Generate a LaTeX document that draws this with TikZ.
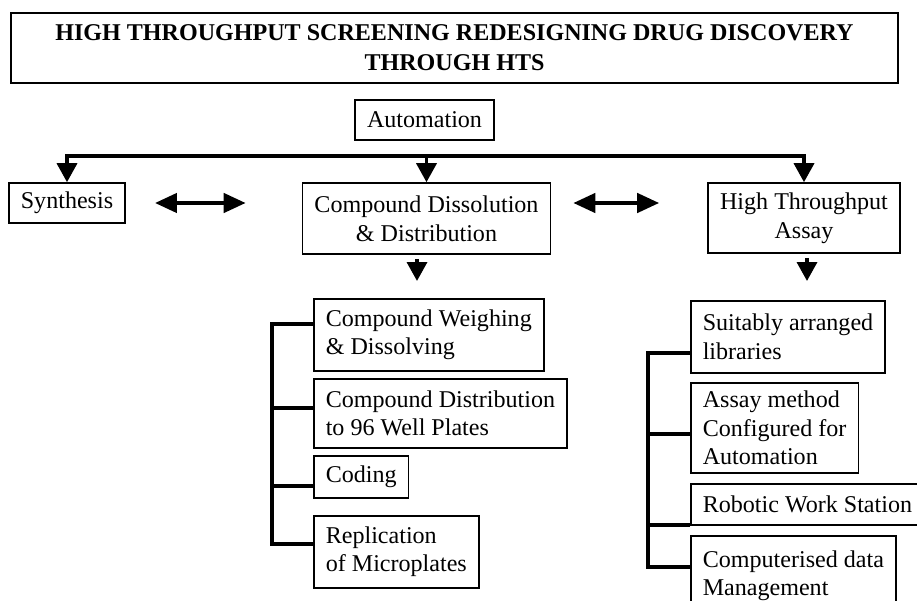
\documentclass[tikz,border=0pt]{standalone}
\usepackage{fontspec}
\setmainfont{Liberation Serif}
\usetikzlibrary{arrows.meta, positioning, calc}

\begin{document}
\begin{tikzpicture}[x=0.02cm, y=-0.02cm,
  box/.style={draw, line width=0.9pt, inner xsep=0.24cm, inner ysep=0pt, font=\fontsize{13.7}{16.4}\selectfont},
  sub/.style={box, anchor=north west, align=left},
  down/.style={line width=2pt, -{Triangle[width=0.4cm, length=0.38cm]}},
  dbl/.style={line width=2.4pt, {Triangle[width=0.38cm, length=0.44cm]}-{Triangle[width=0.38cm, length=0.44cm]}},
  brk/.style={line width=2pt}]
\useasboundingbox (0,0) rectangle (917,601);

% Header and top level
\node[box, line width=1.1pt, align=center, minimum width=17.74cm, minimum height=1.4cm, font=\fontsize{13.7}{17}\selectfont\bfseries] (title) at (454.5,48) {HIGH THROUGHPUT SCREENING REDESIGNING DRUG DISCOVERY\\THROUGH HTS};
\node[box, minimum height=0.8cm] (auto) at (424.5,120) {Automation};

\node[box, minimum height=0.8cm] (synth) at (67,203) {Synthesis};
\node[box, align=center, minimum width=4.94cm, minimum height=1.42cm] (cdd) at (426.5,218.5) {Compound Dissolution\\\& Distribution};
\node[box, align=center, minimum width=3.84cm, minimum height=1.4cm] (hta) at (804,218) {High Throughput\\Assay};

\coordinate (bar) at (0,156);
\draw[line width=2pt, {Triangle[width=0.4cm, length=0.38cm]}-{Triangle[width=0.4cm, length=0.38cm]}] (synth.north) |- (hta.north |- bar) -- (hta.north);
\draw[down] (cdd.north |- bar) -- (cdd.north);

\draw[dbl, shorten <=0.58cm, shorten >=1.12cm] (synth.east) -- (synth.east -| cdd.west);
\draw[dbl, shorten <=0.44cm, shorten >=0.96cm] (cdd.east |- synth.east) -- (hta.west |- synth.east);

% Compound handling
\coordinate (cddtip) at (417,281);
\draw[down, shorten <=0.08cm] (cdd.south -| cddtip) -- (cddtip);

\node[sub, minimum height=1.44cm] (weigh) at (313,298) {Compound Weighing\\\& Dissolving};
\node[sub, minimum height=1.38cm] (dist) at (313,378) {Compound Distribution\\to 96 Well Plates};
\node[sub, minimum height=0.84cm] (coding) at (313,455) {Coding};
\node[sub, minimum height=1.44cm] (repl) at (313,515) {Replication\\of Microplates};

\draw[brk] ([yshift=0.22cm]weigh.west) -- ++(-41,0) |- ([yshift=0.16cm]repl.west);
\draw[brk] ([yshift=0.11cm]dist.west) -- ++(-41,0);
\draw[brk] ([yshift=-0.18cm]coding.west) -- ++(-41,0);

% Assay side
\coordinate (htatip) at (807,281);
\draw[down, shorten <=0.08cm] (hta.south -| htatip) -- (htatip);

\node[sub, minimum height=1.44cm] (suit) at (690,300) {Suitably arranged\\libraries};
\node[sub, minimum height=1.8cm] (assay) at (690,382) {Assay method\\Configured for\\Automation};
\node[sub, minimum height=0.82cm] (robot) at (690,483) {Robotic Work Station};
\node[sub, minimum height=1.6cm] (comp) at (690,535) {Computerised data\\Management};

\draw[brk] ([yshift=-0.32cm]suit.west) -- ++(-42,0) |- ([yshift=0.18cm]comp.west);
\draw[brk] ([yshift=-0.12cm]assay.west) -- ++(-42,0);
\draw[brk] ([yshift=-0.41cm]robot.west) -- ++(-42,0);
\end{tikzpicture}
\end{document}
